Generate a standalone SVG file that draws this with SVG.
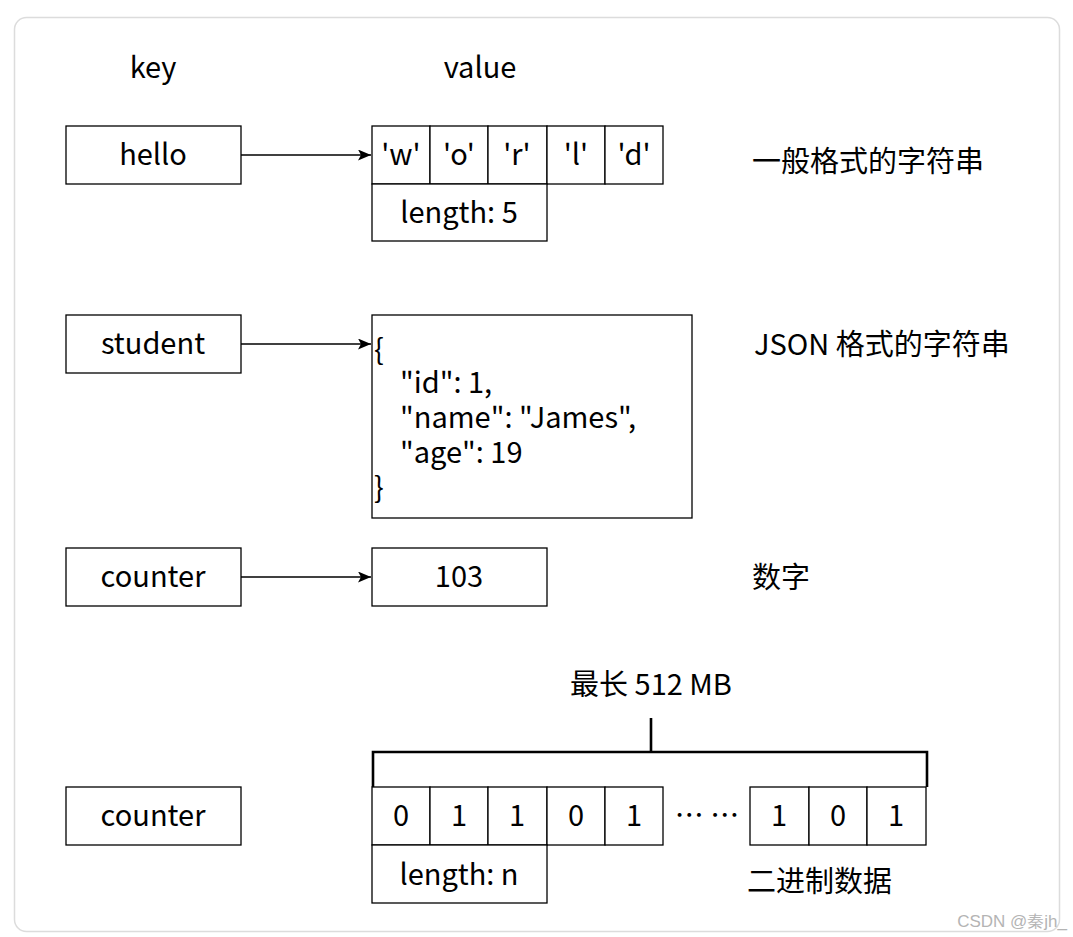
<svg xmlns="http://www.w3.org/2000/svg" width="1073" height="937" viewBox="0 0 1073 937">
<style>
.t{font-family:"Noto Sans CJK SC","Noto Sans",sans-serif;font-size:29px;fill:#000}
.c{text-anchor:middle}
.b{fill:#fff;stroke:#000;stroke-width:1.3}
.l{stroke:#000;stroke-width:1.3;fill:none}
.br{stroke:#000;stroke-width:2.6;fill:none}
</style>
<defs>
<marker id="ah" markerWidth="13" markerHeight="11" refX="13" refY="5.5" orient="auto" markerUnits="userSpaceOnUse">
<path d="M0,0 L13,5.5 L0,11 L3,5.5 Z" fill="#000"/>
</marker>
</defs>
<rect x="0" y="0" width="1073" height="937" fill="#fff"/>
<rect x="14.5" y="17.5" width="1045" height="914" rx="12" fill="#fff" stroke="#dcdcdc" stroke-width="1.5"/>
<text class="t c" x="153" y="78">key</text>
<text class="t c" x="480" y="78">value</text>

<g id="connectors">
<line class="l" x1="241" y1="155" x2="371" y2="155" marker-end="url(#ah)"/>
<line class="l" x1="241" y1="344" x2="371" y2="344" marker-end="url(#ah)"/>
<line class="l" x1="241" y1="577" x2="371" y2="577" marker-end="url(#ah)"/>
</g>

<g id="key-hello"><rect class="b" x="66" y="126" width="175" height="58"/><text class="t c" x="153" y="165">hello</text></g>
<g id="key-student"><rect class="b" x="66" y="315" width="175" height="58"/><text class="t c" x="153" y="354">student</text></g>
<g id="key-counter1"><rect class="b" x="66" y="548" width="175" height="58"/><text class="t c" x="153" y="587">counter</text></g>
<g id="key-counter2"><rect class="b" x="66" y="787" width="175" height="58"/><text class="t c" x="153" y="826">counter</text></g>

<g id="val-world">
<rect class="b" x="372" y="126" width="58" height="58"/><text class="t c" x="401" y="165">'w'</text>
<rect class="b" x="430" y="126" width="58" height="58"/><text class="t c" x="459" y="165">'o'</text>
<rect class="b" x="488" y="126" width="59" height="58"/><text class="t c" x="517" y="165">'r'</text>
<rect class="b" x="547" y="126" width="58" height="58"/><text class="t c" x="576" y="165">'l'</text>
<rect class="b" x="605" y="126" width="58" height="58"/><text class="t c" x="634" y="165">'d'</text>
<rect class="b" x="372" y="184" width="175" height="57"/><text class="t c" x="459" y="223">length: 5</text>
</g>
<text class="t" x="752" y="172">一般格式的字符串</text>

<g id="val-json">
<rect class="b" x="372" y="315" width="320" height="203"/>
<text class="t" x="374" y="360">{</text>
<text class="t" x="400" y="393">"id": 1,</text>
<text class="t" x="400" y="428">"name": "James",</text>
<text class="t" x="400" y="463">"age": 19</text>
<text class="t" x="374" y="498">}</text>
</g>
<text class="t" x="754" y="355">JSON 格式的字符串</text>

<g id="val-103"><rect class="b" x="372" y="548" width="175" height="58"/><text class="t c" x="459" y="587">103</text></g>
<text class="t" x="752" y="588">数字</text>

<g id="val-binary">
<text class="t c" x="651" y="695">最长 512 MB</text>
<path class="br" d="M651,718 V752 M373,787 V752 H927 V787"/>
<rect class="b" x="372" y="787" width="58" height="58"/><text class="t c" x="401" y="826">0</text>
<rect class="b" x="430" y="787" width="58" height="58"/><text class="t c" x="459" y="826">1</text>
<rect class="b" x="488" y="787" width="59" height="58"/><text class="t c" x="517" y="826">1</text>
<rect class="b" x="547" y="787" width="58" height="58"/><text class="t c" x="576" y="826">0</text>
<rect class="b" x="605" y="787" width="58" height="58"/><text class="t c" x="634" y="826">1</text>
<text class="t c" x="707" y="826">… …</text>
<rect class="b" x="750" y="787" width="59" height="58"/><text class="t c" x="779" y="826">1</text>
<rect class="b" x="809" y="787" width="58" height="58"/><text class="t c" x="838" y="826">0</text>
<rect class="b" x="867" y="787" width="59" height="58"/><text class="t c" x="896" y="826">1</text>
<rect class="b" x="372" y="845" width="175" height="58"/><text class="t c" x="459" y="885">length: n</text>
</g>
<text class="t" x="747" y="892">二进制数据</text>

<text x="1067" y="927" text-anchor="end" font-family="Liberation Sans, sans-serif" font-size="17" fill="#b4b4b4">CSDN @秦jh_</text>
</svg>
